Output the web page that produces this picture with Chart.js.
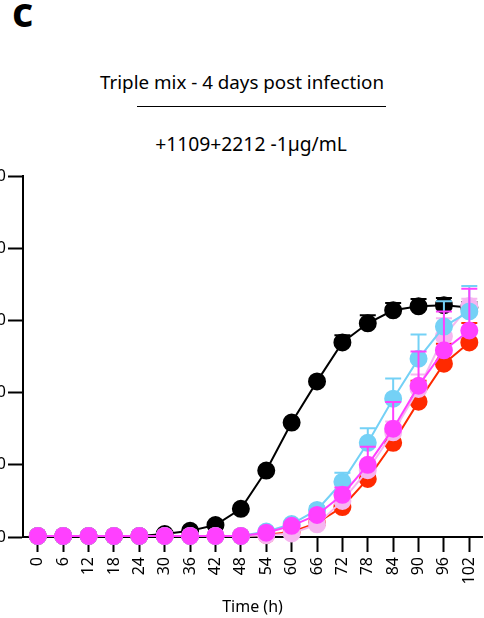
<!DOCTYPE html>
<html>
<head>
<meta charset="utf-8">
<script src="https://cdn.jsdelivr.net/npm/chart.js@4"></script>
<style>
  html, body { margin: 0; padding: 0; background: #fff; }
  body { width: 484px; height: 618px; position: relative; overflow: hidden; font-family: "Noto Sans", sans-serif; color: #000; }
  #panel { position: absolute; left: 12px; top: -17px; font-size: 41px; font-weight: bold; }
  #title { position: absolute; left: 0; width: 484px; top: 69px; text-align: center; font-size: 18.8px; }
  #rule { position: absolute; left: 137px; width: 249px; top: 106px; height: 0; border-top: 1.4px solid #000; }
  #sub { position: absolute; left: 0; width: 502px; top: 130px; text-align: center; font-size: 19.3px; }
  #wrap { position: absolute; left: -56px; top: 0; width: 540px; height: 618px; }
</style>
</head>
<body>
<div id="panel">c</div>
<div id="title">Triple mix - 4 days post infection</div>
<div id="rule"></div>
<div id="sub">+1109+2212 -1µg/mL</div>
<div id="wrap"><canvas id="c" width="540" height="618"></canvas></div>
<script>
const hours = [0, 6, 12, 18, 24, 30, 36, 42, 48, 54, 60, 66, 72, 78, 84, 90, 96, 102];
const yTicks = [0, 20, 40, 60, 80, 100];

const black = [0.3, 0.3, 0.3, 0.3, 0.3, 0.8, 1.7, 3.3, 7.8, 18.4, 31.7, 43.1, 53.9, 59.2, 62.8, 63.9, 64.2, 63.6];
const blackErr = [0, 0, 0, 0, 0, 0, 0, 0, 0, 0, 0, 0, 2, 2.2, 2, 2, 2, 1.5];
const red = [0.3, 0.3, 0.3, 0.3, 0.3, 0.3, 0.3, 0.3, 0.3, 0.6, 1.4, 3.9, 8.3, 16.1, 26.1, 37.5, 48, 53.9];
const redErr = [0, 0, 0, 0, 0, 0, 0, 0, 0, 0, 0, 0.5, 1, 2, 4.7, 5.8, 5.5, 5.4];
const lightPink = [0.3, 0.3, 0.3, 0.3, 0.3, 0.3, 0.3, 0.3, 0.3, 0.5, 1.0, 3.5, 10, 18.5, 29, 41, 55.6, 64];
const lightPinkErr = [0, 0, 0, 0, 0, 0, 0, 0, 0, 0, 0, 0.5, 1, 2, 3, 4, 5, 2];
const lightBlue = [0.3, 0.3, 0.3, 0.3, 0.3, 0.3, 0.3, 0.3, 0.3, 1.5, 3.6, 7.5, 15.3, 26.1, 38.3, 49.4, 58.3, 62.5];
const lightBlueErr = [0, 0, 0, 0, 0, 0, 0, 0, 0, 0, 0.5, 1, 2.5, 4, 5.6, 6.7, 7, 7];
const magenta = [0.3, 0.3, 0.3, 0.3, 0.3, 0.3, 0.3, 0.3, 0.3, 1.2, 3.1, 6.1, 11.7, 20, 30, 41.9, 51.7, 57.2];
const magentaErr = [0, 0, 0, 0, 0, 0, 0, 0, 0, 0, 0, 0.5, 2, 5, 7.4, 9.5, 10.8, 11.6];

function series(label, vals, err, color, order) {
  return {
    label, order, errors: err,
    data: hours.map((h, i) => ({ x: h, y: vals[i] })),
    borderColor: color, backgroundColor: color,
    pointBackgroundColor: color, pointBorderColor: color,
    borderWidth: 2, pointRadius: 8, pointHoverRadius: 8,
    clip: false
  };
}

// upward error bars with caps, drawn under each dataset's own points
const errorBars = {
  id: 'errorBars',
  beforeDatasetDraw(chart, args) {
    const ds = chart.data.datasets[args.index];
    const meta = chart.getDatasetMeta(args.index);
    const ys = chart.scales.y;
    const ctx = chart.ctx;
    ctx.save();
    ctx.strokeStyle = ds.borderColor;
    ctx.lineWidth = 2;
    meta.data.forEach((pt, i) => {
      const e = ds.errors[i];
      if (!e) return;
      const top = ys.getPixelForValue(ds.data[i].y + e);
      ctx.beginPath();
      ctx.moveTo(pt.x, pt.y);
      ctx.lineTo(pt.x, top);
      ctx.moveTo(pt.x - 8, top);
      ctx.lineTo(pt.x + 8, top);
      ctx.stroke();
    });
    ctx.restore();
  }
};

new Chart(document.getElementById('c'), {
  type: 'line',
  data: {
    datasets: [
      series('Magenta', magenta, magentaErr, '#ff40ff', 1),
      series('Light blue', lightBlue, lightBlueErr, '#74d1f6', 2),
      series('Light pink', lightPink, lightPinkErr, '#f6b5f1', 3),
      series('Red', red, redErr, '#ff2a00', 4),
      series('Black', black, blackErr, '#000000', 5)
    ]
  },
  options: {
    animation: false,
    responsive: false,
    layout: { autoPadding: false, padding: { left: 0, right: 2, top: 176, bottom: 0 } },
    plugins: { legend: { display: false }, tooltip: { enabled: false } },
    scales: {
      x: {
        type: 'linear',
        min: -3.5,
        max: 105,
        afterBuildTicks: s => { s.ticks = hours.map(v => ({ value: v })); },
        afterFit: s => { s.height = 81; s.paddingLeft = 0; s.paddingRight = 0; },
        grid: { drawOnChartArea: false, drawTicks: true, tickLength: 15, tickColor: '#000', tickWidth: 2 },
        border: { display: true, color: '#000', width: 2 },
        ticks: {
          autoSkip: false, minRotation: 90, maxRotation: 90, padding: 5,
          color: '#000', font: { family: 'Noto Sans', size: 16 }
        },
        title: {
          display: true, text: 'Time (h)', color: '#000',
          font: { family: 'Noto Sans', size: 16 }, padding: { top: 0, bottom: 1 }
        }
      },
      y: {
        min: 0,
        max: 100,
        afterBuildTicks: s => { s.ticks = yTicks.map(v => ({ value: v })); },
        afterFit: s => { s.width = 79; s.paddingTop = 0; s.paddingBottom = 0; },
        grid: { drawOnChartArea: false, drawTicks: true, tickLength: 15, tickColor: '#000', tickWidth: 2 },
        border: { display: true, color: '#000', width: 2 },
        ticks: { padding: 2, color: '#000', font: { family: 'Noto Sans', size: 16 } }
      }
    }
  },
  plugins: [errorBars]
});
</script>
</body>
</html>
